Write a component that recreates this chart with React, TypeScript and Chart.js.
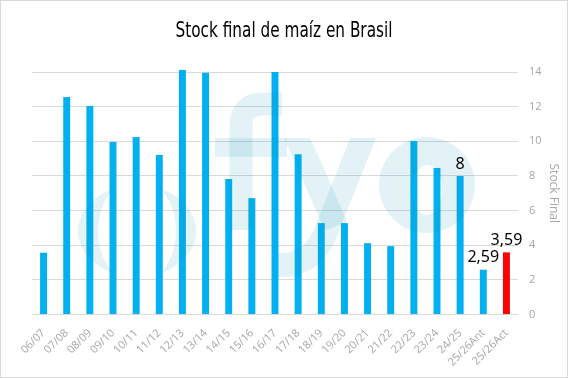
import React, { useEffect, useRef } from "react";
import { Chart, registerables } from "chart.js";

Chart.register(...registerables);

const chartTitle = "Stock final de maíz en Brasil";
const axisTitle = "Stock Final";
const categories = [
  "06/07", "07/08", "08/09", "09/10", "10/11", "11/12", "12/13", "13/14", "14/15", "15/16",
  "16/17", "17/18", "18/19", "19/20", "20/21", "21/22", "22/23", "23/24", "24/25", "25/26Ant", "25/26Act",
];
const stockValues = [
  3.57, 12.56, 12.04, 9.96, 10.25, 9.21, 14.12, 13.95, 7.82, 6.72,
  14.0, 9.25, 5.28, 5.28, 4.12, 3.95, 10.02, 8.46, 8.0, 2.59, 3.59,
];
const barColors = [
  "#00B0F0", "#00B0F0", "#00B0F0", "#00B0F0", "#00B0F0", "#00B0F0", "#00B0F0", "#00B0F0", "#00B0F0", "#00B0F0",
  "#00B0F0", "#00B0F0", "#00B0F0", "#00B0F0", "#00B0F0", "#00B0F0", "#00B0F0", "#00B0F0", "#00B0F0", "#00B0F0", "#FF0000",
];
const dataLabels: (string | null)[] = [
  null, null, null, null, null, null, null, null, null, null,
  null, null, null, null, null, null, null, null, "8", "2,59", "3,59",
];
const yTicks = [0, 2, 4, 6, 8, 10, 12, 14];

const WM = "rgba(25,145,180,0.12)";

const titlePlugin = {
  id: "condensedTitle",
  afterDraw(chart: any) {
    const { ctx, width } = chart;
    ctx.save();
    ctx.font = "21px 'DejaVu Sans Condensed', 'DejaVu Sans'";
    ctx.fillStyle = "#000";
    ctx.textBaseline = "alphabetic";
    ctx.textAlign = "center";
    const w = ctx.measureText(chartTitle).width;
    const sx = 217 / w;
    ctx.translate(width / 2, 35.5);
    ctx.scale(sx, 1);
    ctx.fillText(chartTitle, 0, 0);
    ctx.restore();
  },
};

const watermarkPlugin = {
  id: "watermark",
  afterDatasetsDraw(chart: any) {
    const { ctx } = chart;
    ctx.save();
    ctx.translate(-1, -1);
    ctx.fillStyle = WM;
    ctx.strokeStyle = WM;
    ctx.save();
    ctx.beginPath();
    ctx.ellipse(137, 231, 59, 46, 0, 0, Math.PI * 2);
    ctx.clip();
    ctx.beginPath();
    ctx.rect(60, 170, 160, 130);
    ctx.ellipse(137, 231, 39, 53, 0, 0, Math.PI * 2);
    ctx.fill("evenodd");
    ctx.restore();
    ctx.lineWidth = 23;
    ctx.lineCap = "butt";
    ctx.beginPath();
    ctx.moveTo(241, 230);
    ctx.lineTo(241, 126);
    ctx.quadraticCurveTo(241, 104, 263, 104);
    ctx.lineTo(282, 104);
    ctx.stroke();
    ctx.fillRect(215, 138, 72, 19);
    ctx.save();
    ctx.beginPath();
    ctx.rect(0, 138, 568, 200);
    ctx.clip();
    ctx.lineWidth = 24;
    ctx.beginPath();
    ctx.moveTo(292, 126);
    ctx.lineTo(336, 226);
    ctx.stroke();
    ctx.beginPath();
    ctx.moveTo(368, 126);
    ctx.lineTo(324, 236);
    ctx.quadraticCurveTo(311, 266, 278, 265);
    ctx.stroke();
    ctx.restore();
    ctx.beginPath();
    ctx.ellipse(427, 185, 48, 48, 0, 0, Math.PI * 2);
    ctx.ellipse(427, 190, 15, 25, 0, 0, Math.PI * 2);
    ctx.fill("evenodd");
    ctx.restore();
  },
};

const dataLabelPlugin = {
  id: "dataLabels",
  afterDatasetsDraw(chart: any) {
    const { ctx } = chart;
    const meta = chart.getDatasetMeta(0);
    ctx.save();
    ctx.font = "16px 'Noto Sans'";
    ctx.fillStyle = "#000";
    ctx.textAlign = "center";
    ctx.textBaseline = "bottom";
    meta.data.forEach((bar: any, i: number) => {
      const label = dataLabels[i];
      if (label) ctx.fillText(label, bar.x, bar.y - 4);
    });
    ctx.restore();
  },
};

export default function App() {
  const ref = useRef<HTMLCanvasElement>(null);
  useEffect(() => {
    if (!ref.current) return;
    const chart = new Chart(ref.current, {
      type: "bar",
      data: {
        labels: categories,
        datasets: [
          {
            label: axisTitle,
            data: stockValues,
            backgroundColor: barColors,
            barPercentage: 0.3,
            categoryPercentage: 1,
            clip: false as any,
          },
        ],
      },
      options: {
        responsive: false,
        animation: false,
        devicePixelRatio: 1,
        layout: { padding: { left: 31, right: 6, top: 71, bottom: 4 } },
        plugins: {
          legend: { display: false },
          tooltip: { enabled: false },
          title: { display: false },
        },
        scales: {
          x: {
            grid: { display: false },
            border: { display: false },
            ticks: {
              color: "#a6a6a6",
              font: { family: "'Open Sans'", size: 11 },
              minRotation: 45,
              maxRotation: 45,
              autoSkip: false,
              padding: 4,
            },
          },
          y: {
            position: "right",
            min: 0,
            max: 14,
            afterBuildTicks: (axis: any) => {
              axis.ticks = yTicks.map((v) => ({ value: v }));
            },
            afterFit: (axis: any) => {
              axis.width = 43;
            },
            grid: { color: "#d9d9d9", drawTicks: false },
            border: { display: false },
            ticks: {
              color: "#a6a6a6",
              font: { family: "'Open Sans'", size: 11 },
              padding: 11,
            },
            title: {
              display: true,
              text: axisTitle,
              color: "#a6a6a6",
              font: { family: "'Open Sans'", size: 12 },
              padding: { top: 0, bottom: 0 },
            },
          },
        },
      },
      plugins: [watermarkPlugin, dataLabelPlugin, titlePlugin],
    });
    return () => chart.destroy();
  }, []);
  return (
    <div
      style={{
        position: "fixed",
        left: 0,
        top: 0,
        width: 568,
        height: 378,
        boxSizing: "border-box",
        border: "1px solid #d9d9d9",
        background: "#fff",
      }}
    >
      <canvas ref={ref} width={566} height={376} style={{ display: "block" }} />
    </div>
  );
}
